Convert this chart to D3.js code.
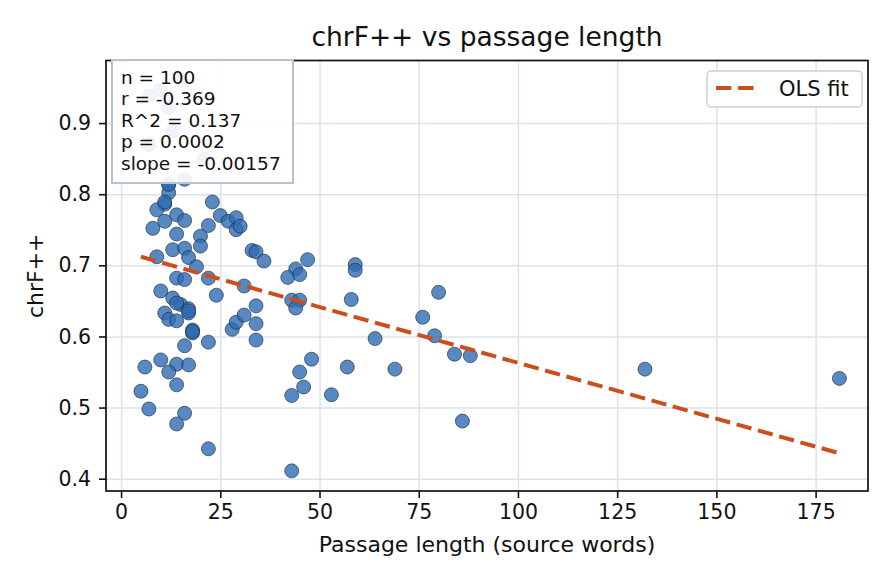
<!DOCTYPE html>
<html>
<head>
<meta charset="utf-8">
<script src="https://cdn.jsdelivr.net/npm/d3@7"></script>
<style>
  body { margin: 0; background: #fff; }
  text { font-family: "DejaVu Sans", sans-serif; fill: #111; }
</style>
</head>
<body>
<div id="chart"></div>
<script>
var lengths = [15,10,7,12,13,7,21,16,12,12,23,11,9,14,16,11,25,27,29,29,
               30,8,22,14,20,20,13,16,17,9,19,33,34,36,14,16,22,31,10,24,
               13,15,17,17,11,12,14,18,18,22,28,29,31,34,34,34,16,10,6,14,
               17,12,14,5,7,16,14,22,47,44,42,45,59,59,43,45,44,58,80,76,
               79,64,84,88,48,45,57,69,46,43,53,86,132,181,43,11,14,17,12,18];

var chrf = [0.961,0.947,0.938,0.922,0.889,0.870,0.849,0.821,0.814,0.802,
            0.789,0.786,0.778,0.771,0.763,0.762,0.770,0.762,0.767,0.750,
            0.755,0.752,0.756,0.744,0.741,0.727,0.722,0.724,0.711,0.712,
            0.698,0.721,0.719,0.706,0.682,0.680,0.682,0.671,0.664,0.658,
            0.654,0.645,0.639,0.633,0.633,0.624,0.622,0.609,0.605,0.592,
            0.610,0.620,0.630,0.643,0.618,0.595,0.587,0.567,0.557,0.561,
            0.560,0.550,0.532,0.523,0.498,0.492,0.477,0.442,0.708,0.695,
            0.683,0.687,0.701,0.693,0.651,0.651,0.640,0.652,0.662,0.627,
            0.601,0.597,0.575,0.573,0.568,0.550,0.557,0.554,0.529,0.517,
            0.518,0.481,0.554,0.541,0.411,0.789,0.647,0.636,0.814,0.607];

var xTicks = [0, 25, 50, 75, 100, 125, 150, 175];
var yTicks = [0.4, 0.5, 0.6, 0.7, 0.8, 0.9];

var fitSlope = -0.00157,
    fitIntercept = 0.7199;

var statLines = ["n = 100", "r = -0.369", "R^2 = 0.137", "p = 0.0002", "slope = -0.00157"];

var width = 896,
    height = 584,
    plotLeft = 106,
    plotRight = 868,
    plotTop = 60.5,
    plotBottom = 491,
    lineColor = "#cb4f1d";

var data = lengths.map(function(d, i) { return {x: d, y: chrf[i]}; });

var svg = d3.select("#chart")
            .append("svg")
              .attr("width", width)
              .attr("height", height);

var x = d3.scaleLinear()
          .domain([-3.8, 188.2])
          .range([plotLeft, plotRight]);

var y = d3.scaleLinear()
          .domain([0.3827, 0.988])
          .range([plotBottom, plotTop]);

// grid
svg.append("g")
    .attr("transform", "translate(0," + plotBottom + ")")
    .call(d3.axisBottom(x).tickValues(xTicks).tickSize(-(plotBottom - plotTop)).tickFormat(""))
    .call(function(g) { g.select(".domain").remove(); })
    .selectAll("line")
      .attr("stroke", "#dde3ec")
      .attr("stroke-width", 1.5);

svg.append("g")
    .attr("transform", "translate(" + plotLeft + ",0)")
    .call(d3.axisLeft(y).tickValues(yTicks).tickSize(-(plotRight - plotLeft)).tickFormat(""))
    .call(function(g) { g.select(".domain").remove(); })
    .selectAll("line")
      .attr("stroke", "#dde3ec")
      .attr("stroke-width", 1.5);

// points
svg.append("g")
    .selectAll("circle")
    .data(data)
    .enter()
    .append("circle")
      .attr("cx", function(d) { return x(d.x); })
      .attr("cy", function(d) { return y(d.y); })
      .attr("r", 7)
      .style("fill", "#2f6cb3")
      .style("fill-opacity", 0.8)
      .style("stroke", "#1b2a40")
      .style("stroke-opacity", 0.8)
      .style("stroke-width", 0.8);

// OLS line
var xExt = d3.extent(lengths);
svg.append("line")
    .attr("x1", x(xExt[0]))
    .attr("y1", y(fitIntercept + fitSlope * xExt[0]))
    .attr("x2", x(xExt[1]))
    .attr("y2", y(fitIntercept + fitSlope * xExt[1]))
    .attr("stroke", lineColor)
    .attr("stroke-width", 4)
    .attr("stroke-dasharray", "15.4,6.7");

// frame + axes
svg.append("rect")
    .attr("x", plotLeft)
    .attr("y", plotTop)
    .attr("width", plotRight - plotLeft)
    .attr("height", plotBottom - plotTop)
    .attr("fill", "none")
    .attr("stroke", "#111")
    .attr("stroke-width", 1.7);

var xAxis = svg.append("g")
    .attr("transform", "translate(0," + plotBottom + ")")
    .call(d3.axisBottom(x).tickValues(xTicks).tickSize(7).tickPadding(6).tickFormat(d3.format("d")));
xAxis.select(".domain").remove();
xAxis.selectAll("line").attr("stroke", "#111").attr("stroke-width", 1.6);
xAxis.selectAll("text").style("font-size", "20.5px").style("font-family", "DejaVu Sans").attr("fill", "#111");

var yAxis = svg.append("g")
    .attr("transform", "translate(" + plotLeft + ",0)")
    .call(d3.axisLeft(y).tickValues(yTicks).tickSize(7).tickPadding(8).tickFormat(d3.format(".1f")));
yAxis.select(".domain").remove();
yAxis.selectAll("line").attr("stroke", "#111").attr("stroke-width", 1.6);
yAxis.selectAll("text").style("font-size", "20.5px").style("font-family", "DejaVu Sans").attr("fill", "#111");

// titles
svg.append("text")
    .attr("x", (plotLeft + plotRight) / 2)
    .attr("y", 46)
    .attr("text-anchor", "middle")
    .style("font-size", "26.5px")
    .text("chrF++ vs passage length");

svg.append("text")
    .attr("x", (plotLeft + plotRight) / 2)
    .attr("y", 552)
    .attr("text-anchor", "middle")
    .style("font-size", "22px")
    .text("Passage length (source words)");

svg.append("text")
    .attr("transform", "translate(43," + ((plotTop + plotBottom) / 2) + ") rotate(-90)")
    .attr("text-anchor", "middle")
    .style("font-size", "22px")
    .text("chrF++");

// stats box
svg.append("rect")
    .attr("x", 112)
    .attr("y", 60)
    .attr("width", 181)
    .attr("height", 123)
    .attr("fill", "#fff")
    .attr("fill-opacity", 0.91)
    .attr("stroke", "#b7c3d1")
    .attr("stroke-width", 2);

svg.append("g")
    .selectAll("text")
    .data(statLines)
    .enter()
    .append("text")
      .attr("x", 121)
      .attr("y", function(d, i) { return 83.5 + i * 21.6; })
      .style("font-size", "18.5px")
      .text(function(d) { return d; });

// legend
var legend = svg.append("g");
legend.append("rect")
    .attr("x", 707)
    .attr("y", 71)
    .attr("width", 155)
    .attr("height", 36)
    .attr("rx", 4)
    .attr("fill", "#fff")
    .attr("fill-opacity", 0.85)
    .attr("stroke", "#d0d0d0")
    .attr("stroke-width", 1.5);
legend.append("line")
    .attr("x1", 716)
    .attr("x2", 754)
    .attr("y1", 88)
    .attr("y2", 88)
    .attr("stroke", lineColor)
    .attr("stroke-width", 4)
    .attr("stroke-dasharray", "15.4,6.7");
legend.append("text")
    .attr("x", 779)
    .attr("y", 96)
    .style("font-size", "21px")
    .text("OLS fit");
</script>
</body>
</html>
